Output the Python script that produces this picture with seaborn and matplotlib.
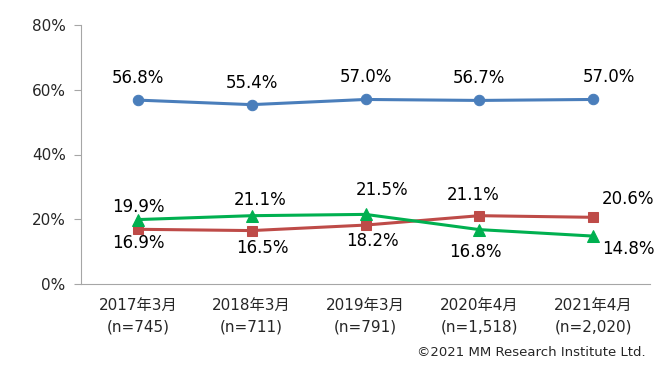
import pandas as pd
import matplotlib
matplotlib.use("Agg")
import matplotlib.pyplot as plt
import seaborn as sns
from matplotlib.ticker import FuncFormatter

# ========== Data ==========
periods = ["2017年3月\n(n=745)", "2018年3月\n(n=711)", "2019年3月\n(n=791)",
           "2020年4月\n(n=1,518)", "2021年4月\n(n=2,020)"]
series_blue = [56.8, 55.4, 57.0, 56.7, 57.0]
series_red = [16.9, 16.5, 18.2, 21.1, 20.6]
series_green = [19.9, 21.1, 21.5, 16.8, 14.8]
series_names = ["blue", "red", "green"]
y_ticks = [0, 20, 40, 60, 80]
credit = "©2021 MM Research Institute Ltd."

# ========== Style ==========
sns.set_style("white")
plt.rcParams["font.family"] = ["DejaVu Sans", "Noto Sans CJK JP"]

colors = {"blue": "#4A7EBB", "red": "#BE4B48", "green": "#00B050"}
markers = {"blue": "o", "red": "s", "green": "^"}
msizes = {"blue": 7.5, "red": 7.5, "green": 8.5}

# label offsets (pixels) for each point, per series
offsets = {
    "blue": [(0, 22), (0, 22), (0, 22), (0, 22), (16, 22)],
    "red": [(0, -14), (11, -17), (7, -16), (-6, 21), (35, 18)],
    "green": [(0, 13), (8, 16), (17, 24), (-4, -22), (35, -13)],
}

df = pd.DataFrame({
    "period": periods * 3,
    "value": series_blue + series_red + series_green,
    "series": [s for s in series_names for _ in periods],
})

fig = plt.figure(figsize=(6.65, 3.73), dpi=100)
ax = fig.add_axes([81 / 665, 1 - 284 / 373, (650 - 81) / 665, (284 - 25) / 373])

for name in series_names:
    sub = df[df["series"] == name]
    sns.lineplot(data=sub, x="period", y="value", color=colors[name],
                 marker=markers[name], markersize=msizes[name],
                 markeredgecolor=colors[name], linewidth=2.2,
                 sort=False, ax=ax)
    for i, (p, v) in enumerate(zip(sub["period"], sub["value"])):
        dx, dy = offsets[name][i]
        ax.annotate(f"{v:.1f}%", (i, v), xytext=(dx, dy),
                    textcoords="offset pixels", ha="center", va="center",
                    fontsize=12, color="black")

ax.set_xlim(-0.5, len(periods) - 0.5)
ax.set_ylim(0, 80)
ax.set_yticks(y_ticks)
ax.yaxis.set_major_formatter(FuncFormatter(lambda v, _: f"{v:.0f}%"))
ax.set_xticks(range(len(periods)))
ax.set_xticklabels(periods, fontsize=11, linespacing=1.55)
ax.set_xticks([i - 0.5 for i in range(len(periods) + 1)], minor=True)
ax.tick_params(axis="x", which="major", length=0, pad=10)
ax.tick_params(axis="x", which="minor", length=5, color="#A6A6A6", width=0.8)
ax.tick_params(axis="y", left=True, length=5, color="#A6A6A6", width=0.8,
               labelsize=11, pad=6)
ax.set_xlabel("")
ax.set_ylabel("")

sns.despine(ax=ax)
for side in ["left", "bottom"]:
    ax.spines[side].set_color("#A6A6A6")
    ax.spines[side].set_linewidth(0.8)

fig.text(646 / 665, 1 - 352 / 373, credit, ha="right", va="center", fontsize=9.5)

fig.savefig("out.png", dpi=100)
